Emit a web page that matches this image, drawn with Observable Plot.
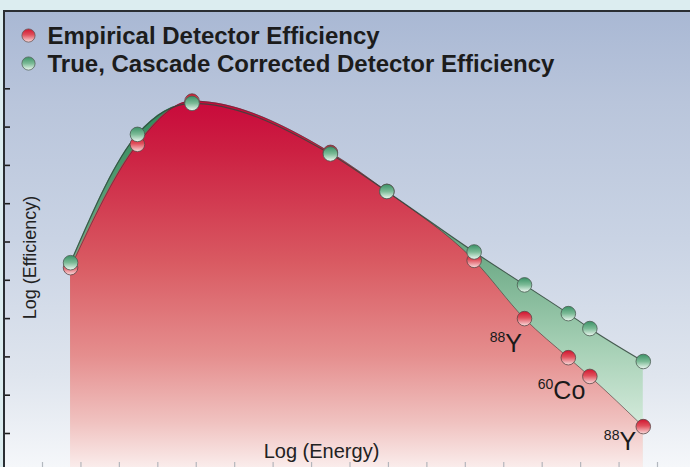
<!DOCTYPE html>
<html>
<head>
<meta charset="utf-8">
<script src="https://cdn.jsdelivr.net/npm/d3@7"></script>
<script src="https://cdn.jsdelivr.net/npm/@observablehq/plot@0.6"></script>
<style>
  html, body { margin: 0; padding: 0; background: #dcedf0; }
  svg { display: block; }
</style>
</head>
<body>
<div id="chart"></div>
<script>
// ---- data (arbitrary log units) ----
const seriesNames = ["Empirical Detector Efficiency", "True, Cascade Corrected Detector Efficiency"];
const logEnergy = [0.73, 2.47, 3.89, 7.49, 8.96, 11.23, 12.54, 13.68, 14.24, 15.63];
const empiricalEff = [5.33, 8.55, 9.68, 8.34, 7.32, 5.52, 4.00, 2.98, 2.49, 1.18];
const trueEff = [5.46, 8.81, 9.62, 8.30, 7.32, 5.74, 4.88, 4.13, 3.74, 2.88];
const xTicks = [0, 1, 2, 3, 4, 5, 6, 7, 8, 9, 10, 11, 12, 13, 14, 15, 16];
const yTicks = [1, 2, 3, 4, 5, 6, 7, 8, 9, 10];
const labelMass = ["88", "60", "88"];
const labelElement = ["Y", "Co", "Y"];
const labelX = [12.04, 13.29, 15.01];
const labelY = [3.14, 1.91, 0.56];
const axisLabelX = "Log (Energy)";
const axisLabelY = "Log (Efficiency)";

const empRows = logEnergy.map((x, i) => ({x, y: empiricalEff[i]}));
const trueRows = logEnergy.map((x, i) => ({x, y: trueEff[i]}));
const labels = labelMass.map((m, i) => ({mass: m, element: labelElement[i], x: labelX[i], y: labelY[i]}));

const font = "'Liberation Sans', Arial, Helvetica, sans-serif";
const curve = "monotone-x";

const chart = Plot.plot({
  width: 690,
  height: 467,
  marginTop: 11,
  marginLeft: 10,
  marginRight: 0,
  marginBottom: 5,
  x: {domain: [0, 16], range: [42, 657]},
  y: {domain: [0, 10], range: [471.3, 88.3]},
  style: {background: "transparent", fontFamily: font, overflow: "hidden"},
  marks: [
    Plot.areaY(trueRows, {x: "x", y: "y", curve, fill: "url(#greenArea)"}),
    Plot.areaY(empRows, {x: "x", y: "y", curve, fill: "url(#redArea)"}),
    Plot.line(trueRows, {x: "x", y: "y", curve, stroke: "#34473d", strokeWidth: 1.1, strokeOpacity: 0.85}),
    Plot.line(empRows, {x: "x", y: "y", curve, stroke: "#4a3a3a", strokeWidth: 0.9, strokeOpacity: 0.7}),
    Plot.dot(empRows, {x: "x", y: "y", r: 7.3, fill: "url(#redBall)", stroke: "#5a4848", strokeWidth: 0.8}),
    Plot.dot(trueRows, {x: "x", y: "y", r: 7.3, fill: "url(#greenBall)", stroke: "#4a5a52", strokeWidth: 0.8}),
    Plot.axisY(yTicks, {anchor: "left", tickSize: 6, fill: "none", stroke: "#1e1e1e", strokeWidth: 1.6}),
    Plot.axisX(xTicks, {anchor: "bottom", tickSize: 6, fill: "none", stroke: "#a3a9b0", strokeWidth: 1.2, strokeOpacity: 0.8}),
    Plot.text(labels, {x: "x", y: "y", text: "element", textAnchor: "start", lineAnchor: "bottom", fontSize: 25, fill: "#1a1a1a"}),
    Plot.text(labels, {x: "x", y: "y", text: "mass", textAnchor: "end", lineAnchor: "bottom", fontSize: 14, dy: -10, fill: "#1a1a1a"}),
    Plot.text([axisLabelX], {text: d => d, frameAnchor: "bottom", dx: -29, dy: -5, textAnchor: "middle", lineAnchor: "bottom", fontSize: 20, fill: "#222"}),
    Plot.text([axisLabelY], {text: d => d, frameAnchor: "left", dx: 25, dy: 20.5, rotate: -90, textAnchor: "middle", lineAnchor: "bottom", fontSize: 18, fill: "#222"}),
    Plot.dot([seriesNames[0]], {frameAnchor: "top-left", dx: 18, dy: 24, r: 6.6, fill: "url(#redBall)", stroke: "#6a5555", strokeWidth: 0.8}),
    Plot.dot([seriesNames[1]], {frameAnchor: "top-left", dx: 18, dy: 52, r: 6.6, fill: "url(#greenBall)", stroke: "#55665c", strokeWidth: 0.8}),
    Plot.text([seriesNames[0]], {text: d => d, frameAnchor: "top-left", dx: 37, dy: 32, textAnchor: "start", lineAnchor: "bottom", fontSize: 24, fontWeight: "bold", fill: "#1c1c1c"}),
    Plot.text([seriesNames[1]], {text: d => d, frameAnchor: "top-left", dx: 37, dy: 60, textAnchor: "start", lineAnchor: "bottom", fontSize: 24, fontWeight: "bold", fill: "#1c1c1c"})
  ]
});

// ---- decoration: gradients, background panel and border ----
const svg = d3.select(chart);
const bgG = svg.insert("g", ":first-child");
const defs = svg.insert("defs", ":first-child");

function grad(id, stops, user, y1, y2) {
  const g = defs.append("linearGradient").attr("id", id).attr("x1", 0).attr("x2", 0);
  if (user) g.attr("gradientUnits", "userSpaceOnUse").attr("y1", y1).attr("y2", y2);
  else g.attr("y1", 0).attr("y2", 1);
  stops.forEach(([o, c]) => g.append("stop").attr("offset", o).attr("stop-color", c));
}
grad("bgGrad", [[0, "#a9b8d4"], [0.2, "#b9c5db"], [0.5, "#c9d3e4"], [0.8, "#dfe5ee"], [1, "#f5f7fa"]], true, 11, 467);
grad("redArea", [[0, "#c8063a"], [0.15, "#cc2042"], [0.45, "#d95a62"], [0.7, "#e58e8e"], [0.88, "#f0c2c0"], [1, "#faeceb"]], true, 95, 467);
grad("greenArea", [[0, "#2c8656"], [0.44, "#70ac89"], [0.68, "#a6d0b5"], [0.87, "#d0e8d8"], [1, "#e9f5ee"]], true, 95, 467);
grad("redBall", [[0, "#d0142f"], [0.45, "#e0505c"], [1, "#f9dede"]], false);
grad("greenBall", [[0, "#3a9166"], [0.5, "#7cbb97"], [1, "#f0f9f3"]], false);

bgG.append("rect").attr("x", 0).attr("y", 0).attr("width", 690).attr("height", 467).attr("fill", "#dcedf0");
bgG.append("rect").attr("x", 4).attr("y", 11).attr("width", 686).attr("height", 456).attr("fill", "url(#bgGrad)");
svg.append("line").attr("x1", 3).attr("x2", 690).attr("y1", 11).attr("y2", 11).attr("stroke", "#2a2e33").attr("stroke-width", 2);
svg.append("line").attr("x1", 4).attr("x2", 4).attr("y1", 10).attr("y2", 467).attr("stroke", "#2a2e33").attr("stroke-width", 2);

document.getElementById("chart").appendChild(chart);
</script>
</body>
</html>
